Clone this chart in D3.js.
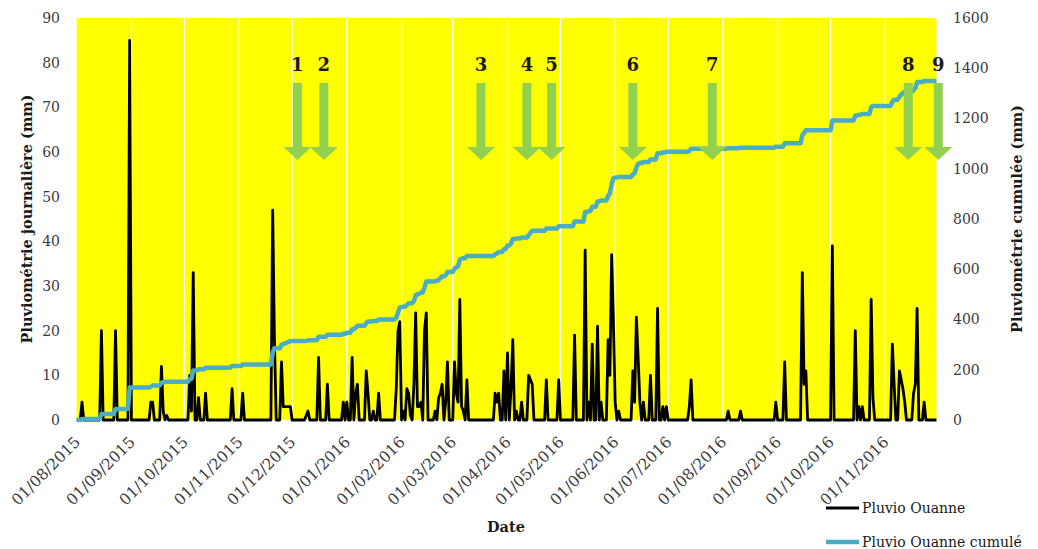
<!DOCTYPE html>
<html><head><meta charset="utf-8">
<script src="https://cdn.jsdelivr.net/npm/d3@7"></script>
<style>
body{margin:0;background:#fff}
svg{display:block}
text{font-family:"DejaVu Serif",serif}
</style>
</head><body>
<svg id="chart" width="1038" height="549"></svg>
<script>
// daily rainfall (mm), only the rainy days; every other day is 0
var rainDates = ["2015-08-04","2015-08-15","2015-08-23","2015-08-31","2015-09-12","2015-09-13","2015-09-18","2015-09-19","2015-09-21",
  "2015-10-04","2015-10-05","2015-10-06","2015-10-09","2015-10-13","2015-10-28","2015-11-03","2015-11-20","2015-11-21","2015-11-25",
  "2015-11-26","2015-11-27","2015-11-28","2015-11-29","2015-11-30","2015-12-09","2015-12-10","2015-12-16","2015-12-21","2015-12-30",
  "2016-01-01","2016-01-04","2016-01-06","2016-01-07","2016-01-12","2016-01-13","2016-01-16","2016-01-19","2016-01-29","2016-01-30","2016-01-31",
  "2016-02-02","2016-02-04","2016-02-05","2016-02-06","2016-02-08","2016-02-09","2016-02-10","2016-02-11","2016-02-12","2016-02-14","2016-02-15",
  "2016-02-20","2016-02-22","2016-02-23","2016-02-24","2016-02-26","2016-02-27","2016-03-02","2016-03-03","2016-03-04","2016-03-05",
  "2016-03-06","2016-03-07","2016-03-09","2016-03-25","2016-03-26","2016-03-27","2016-03-30","2016-04-01","2016-04-03","2016-04-04",
  "2016-04-06","2016-04-09","2016-04-13","2016-04-14","2016-04-15","2016-04-23","2016-04-30","2016-05-09","2016-05-15","2016-05-17",
  "2016-05-19","2016-05-22","2016-05-24","2016-05-28","2016-05-29","2016-05-30","2016-05-31","2016-06-01","2016-06-03","2016-06-11",
  "2016-06-12","2016-06-13","2016-06-14","2016-06-15","2016-06-17","2016-06-21","2016-06-25","2016-06-28","2016-06-30","2016-07-13",
  "2016-07-14","2016-08-04","2016-08-11","2016-08-31","2016-09-05","2016-09-15","2016-09-16","2016-09-17","2016-10-02","2016-10-15",
  "2016-10-17","2016-10-19","2016-10-24","2016-10-25","2016-11-05","2016-11-06","2016-11-09","2016-11-10","2016-11-11",
  "2016-11-12","2016-11-17","2016-11-18","2016-11-19","2016-11-23"];
var rainMm = [4,20,20,85,4,4,12,2,1,
  10,2,33,5,6,7,6,47,18,13,
  3,3,3,3,3,1,2,14,8,4,
  4,14,6,8,11,6,2,6,7,20,22,
  2,7,6,1,8,24,3,3,4,20,24,
  2,5,6,8,4,13,13,6,4,27,
  3,2,9,6,4,6,11,15,7,18,
  2,4,10,9,8,9,9,19,38,4,
  17,21,4,18,10,37,22,4,2,11,
  4,23,14,4,4,10,25,3,3,3,
  9,2,2,4,13,33,8,11,39,20,
  3,3,27,5,17,8,11,9,7,
  4,6,8,25,4];

var leftTicks = [0,10,20,30,40,50,60,70,80,90];
var rightTicks = [0,200,400,600,800,1000,1200,1400,1600];

// sampling campaigns (green arrows)
var campaignLabels = ["1","2","3","4","5","6","7","8","9"];
var campaignDates = ["2015-12-04","2015-12-19","2016-03-17","2016-04-12","2016-04-26","2016-06-11","2016-07-26","2016-11-14","2016-12-01"];

var svg = d3.select("#chart");
var parse = d3.utcParse("%Y-%m-%d");
var key = d3.utcFormat("%Y-%m-%d");
var start = parse("2015-08-01"), end = parse("2016-11-30");

var x = d3.scaleUtc().domain([start, end]).range([76.7, 936.5]);
var yL = d3.scaleLinear().domain([0, 90]).range([420, 18]);
var yR = d3.scaleLinear().domain([0, 1600]).range([420, 18]);

var rainByDay = new Map(rainDates.map(function(d, i){ return [d, rainMm[i]]; }));
var days = d3.utcDay.range(start, d3.utcDay.offset(end, 1));
var daily = days.map(function(d){ return {date: d, mm: rainByDay.get(key(d)) || 0}; });
var cum = d3.cumsum(daily, function(d){ return d.mm; });

// plot background + month grid
svg.append("rect")
  .attr("x", x(start)).attr("y", yL(90))
  .attr("width", x(end) - x(start)).attr("height", yL(0) - yL(90))
  .attr("fill", "#ffff00");

var months = d3.utcMonth.range(start, d3.utcDay.offset(end, 1));
svg.append("g").selectAll("line").data(months.slice(1)).enter()
  .append("line")
  .attr("x1", function(d){ return x(d); }).attr("x2", function(d){ return x(d); })
  .attr("y1", yL(90)).attr("y2", yL(0))
  .attr("stroke", "#fff").attr("stroke-width", 1.3);

// daily rain
svg.append("path").datum(daily)
  .attr("fill", "none").attr("stroke", "#000").attr("stroke-width", 2.8)
  .attr("stroke-linejoin", "round")
  .attr("d", d3.line().x(function(d){ return x(d.date); }).y(function(d){ return yL(d.mm); }));

// cumulative
svg.append("path").datum(days)
  .attr("fill", "none").attr("stroke", "#4bacc6").attr("stroke-width", 4.5)
  .attr("stroke-linejoin", "round")
  .attr("d", d3.line().x(function(d){ return x(d); }).y(function(d, i){ return yR(cum[i]); }));

// arrows
var arrows = svg.append("g").selectAll("g").data(campaignDates).enter()
  .append("g")
  .attr("transform", function(d){ return "translate(" + x(parse(d)) + ",0)"; });
arrows.append("path")
  .attr("d", "M-4.5,83 L4.5,83 L4.5,147 L14,147 L0,160 L-14,147 L-4.5,147 Z")
  .attr("fill", "#92d050");
arrows.append("text")
  .attr("y", 71).attr("text-anchor", "middle")
  .attr("font-size", 18).attr("font-weight", "bold").attr("fill", "#1a1a1a")
  .text(function(d, i){ return campaignLabels[i]; });

// axes
var gL = svg.append("g").attr("transform", "translate(66,0)")
  .call(d3.axisLeft(yL).tickValues(leftTicks).tickSize(0).tickPadding(6));
var gR = svg.append("g").attr("transform", "translate(947,0)")
  .call(d3.axisRight(yR).tickValues(rightTicks).tickFormat(d3.format("d")).tickSize(0).tickPadding(6));
var gX = svg.append("g").attr("transform", "translate(0,420)")
  .call(d3.axisBottom(x).tickValues(months).tickFormat(d3.utcFormat("%d/%m/%Y")).tickSize(0));
[gL, gR, gX].forEach(function(g){
  g.select(".domain").remove();
  g.selectAll("text").attr("font-family", "DejaVu Serif").attr("font-size", 14).attr("fill", "#3a3a3a");
});
gX.selectAll("text")
  .attr("x", 0).attr("y", 0).attr("dy", 0)
  .attr("text-anchor", "end").attr("font-size", 15.5)
  .attr("transform", "translate(4,23) rotate(-45)");

// axis titles
svg.append("text")
  .attr("transform", "translate(32,219) rotate(-90)")
  .attr("text-anchor", "middle").attr("font-size", 14.5).attr("font-weight", "bold").attr("fill", "#1a1a1a")
  .text("Pluviométrie journalière (mm)");
svg.append("text")
  .attr("transform", "translate(1022,219) rotate(-90)")
  .attr("text-anchor", "middle").attr("font-size", 14.5).attr("font-weight", "bold").attr("fill", "#1a1a1a")
  .text("Pluviométrie cumulée (mm)");
svg.append("text")
  .attr("x", 506).attr("y", 532)
  .attr("text-anchor", "middle").attr("font-size", 14.5).attr("font-weight", "bold").attr("fill", "#1a1a1a")
  .text("Date");

// legend
var legend = [["Pluvio Ouanne", "#000", 2.8, 508], ["Pluvio Ouanne cumulé", "#4bacc6", 4.5, 542]];
legend.forEach(function(l){
  svg.append("line").attr("x1", 826).attr("x2", 859).attr("y1", l[3]).attr("y2", l[3])
    .attr("stroke", l[1]).attr("stroke-width", l[2]);
  svg.append("text").attr("x", 862).attr("y", l[3] + 5)
    .attr("font-size", 14).attr("fill", "#1a1a1a").text(l[0]);
});
</script>
</body></html>
